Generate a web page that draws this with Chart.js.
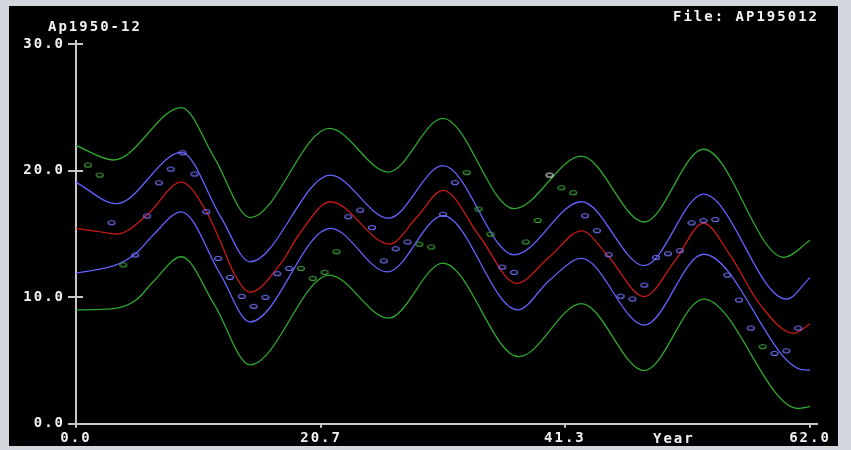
<!DOCTYPE html>
<html>
<head>
<meta charset="utf-8">
<title>Ap1950-12</title>
<script src="https://cdn.jsdelivr.net/npm/chart.js@4.4.0/dist/chart.umd.min.js"></script>
<style>
  html, body { margin: 0; padding: 0; }
  body { width: 851px; height: 450px; background: #d3d7dd; position: relative; overflow: hidden; }
  #plot { position: absolute; left: 9px; top: 6px; width: 829px; height: 440px; background: #000; }
  #plot canvas { display: block; }
</style>
</head>
<body>
<div id="plot"><canvas id="chart" width="829" height="440"></canvas></div>
<script>
// labels
var plotTitle = "Ap1950-12";
var fileLabel = "File: AP195012";
var xTitle = "Year";
var xTicks = [0, 20.7, 41.3, 62.0];
var yTicks = [0, 10, 20, 30];

// observations, one per year
var inYears = [3, 5, 6, 7, 8, 9, 10, 11, 12, 13, 14, 15, 16, 17, 18, 23, 24, 25, 26, 27, 28, 31, 32, 36, 37,
               43, 44, 45, 46, 47, 48, 49, 50, 51, 52, 53, 54, 55, 56, 57, 59, 60, 61];
var inValues = [15.89, 13.34, 16.42, 19.05, 20.13, 21.42, 19.74, 16.76, 13.07, 11.57, 10.07, 9.28, 9.99, 11.86, 12.28,
                16.36, 16.89, 15.5, 12.87, 13.83, 14.37, 16.56, 19.06, 12.38, 11.97,
                16.44, 15.26, 13.36, 10.08, 9.86, 10.96, 13.15, 13.44, 13.68, 15.88, 16.06, 16.14, 11.75, 9.78, 7.56,
                5.56, 5.76, 7.56];
var outYears = [1, 2, 4, 19, 20, 21, 22, 29, 30, 33, 34, 35, 38, 39, 41, 42, 58];
var outValues = [20.45, 19.66, 12.55, 12.28, 11.49, 11.97, 13.6, 14.19, 13.97, 19.85, 16.97, 14.98, 14.37, 16.07,
                 18.66, 18.26, 6.09];
var farYears = [40];
var farValues = [19.66];

// fitted curve
var fitYears = [0, 1.8, 3.5, 6.0, 8.9, 11.0, 12.2, 13.4, 14.7, 17.4, 18.8, 21.5, 26.5, 28.8, 31.0, 34.1,
                37.2, 40.0, 42.7, 44.9, 48.0, 50.6, 53.0, 55.2, 57.8, 60.6, 62.0];
var fitValues = [15.45, 15.2, 15.0, 16.5, 19.1, 16.8, 14.4, 11.8, 10.4, 12.8, 14.9, 17.55, 14.2, 16.35, 18.45,
                 14.8, 11.1, 13.2, 15.25, 13.3, 10.05, 12.9, 15.85, 13.4, 9.4, 7.15, 7.9];

// inner band (blue)
var innerHiYears = [0, 3.4, 8.9, 12.2, 14.7, 21.5, 26.4, 31.0, 37.0, 42.7, 48.0, 53.0, 60.0, 62.0];
var innerHiValues = [19.1, 17.4, 21.45, 16.4, 12.8, 19.65, 16.25, 20.4, 13.35, 17.55, 12.5, 18.15, 9.85, 11.55];
var innerLoYears = [0, 3.5, 5.1, 6.5, 8.9, 12.2, 14.7, 21.5, 26.3, 31.0, 37.3, 40.0, 42.7, 48.0, 53.0, 61.5, 62.0];
var innerLoValues = [11.9, 12.6, 13.5, 14.9, 16.75, 11.8, 8.05, 15.45, 12.0, 16.45, 9.0, 11.35, 13.07, 7.8,
                     13.4, 4.25, 4.24];

// outer band (green)
var outerHiYears = [0, 3.2, 8.9, 11.7, 14.7, 21.4, 26.4, 31.0, 37.0, 42.7, 48.0, 53.0, 59.8, 62.0];
var outerHiValues = [22.0, 20.85, 25.0, 21.0, 16.3, 23.35, 19.9, 24.15, 17.0, 21.15, 15.95, 21.7, 13.15, 14.5];
var outerLoYears = [0, 3.2, 5.1, 6.5, 8.9, 11.7, 14.7, 21.4, 26.4, 31.0, 37.4, 42.7, 48.0, 53.0, 61.0, 62.0];
var outerLoValues = [9.0, 9.1, 9.8, 11.2, 13.2, 9.4, 4.65, 11.75, 8.35, 12.7, 5.3, 9.5, 4.2, 9.85, 1.2, 1.35];

var axisColor = "#c8c8c8";
var textColor = "#f2f2f2";
var tickFont = { family: "'DejaVu Sans Mono', monospace", size: 14, weight: "bold" };

function xy(years, values) {
    return years.map(function (x, i) { return { x: x, y: values[i] }; });
}

// small hollow ellipse used as the point marker
function ring(color) {
    var c = document.createElement("canvas");
    c.width = 10;
    c.height = 7;
    var g = c.getContext("2d");
    g.strokeStyle = color;
    g.lineWidth = 1.1;
    g.beginPath();
    g.ellipse(5, 3.5, 3.5, 2, 0, 0, Math.PI * 2);
    g.stroke();
    return c;
}

function curve(years, values, color) {
    return {
        data: xy(years, values),
        borderColor: color,
        borderWidth: 1.3,
        pointRadius: 0,
        fill: false,
        cubicInterpolationMode: "monotone"
    };
}

function marks(years, values, color) {
    return {
        data: xy(years, values),
        showLine: false,
        pointStyle: ring(color),
        pointRadius: 3,
        pointHoverRadius: 3
    };
}

// header texts, year title and the inner half of the y tick marks
var plotText = {
    id: "plotText",
    beforeDraw: function (chart) {
        chart.ctx.letterSpacing = "2px";
    },
    afterDraw: function (chart) {
        var c = chart.ctx, area = chart.chartArea, ys = chart.scales.y;
        c.save();
        c.strokeStyle = axisColor;
        c.lineWidth = 2;
        yTicks.forEach(function (v) {
            var py = Math.round(ys.getPixelForValue(v));
            c.beginPath();
            c.moveTo(area.left, py);
            c.lineTo(area.left + 7, py);
            c.stroke();
        });
        c.font = "bold 14px 'DejaVu Sans Mono', monospace";
        c.fillStyle = textColor;
        c.textBaseline = "alphabetic";
        c.textAlign = "left";
        c.fillText(plotTitle, 39, 25);
        c.fillText(fileLabel, 664, 14.5);
        c.fillText(xTitle, 644, 436.5);
        c.restore();
    }
};

var chart = new Chart(document.getElementById("chart").getContext("2d"), {
    type: "line",
    data: {
        datasets: [
            marks(farYears, farValues, "#e8e8e8"),
            marks(inYears, inValues, "#7474ff"),
            marks(outYears, outValues, "#3ea63e"),
            curve(fitYears, fitValues, "#c81818"),
            curve(innerHiYears, innerHiValues, "#6262ff"),
            curve(innerLoYears, innerLoValues, "#6262ff"),
            curve(outerHiYears, outerHiValues, "#2fa82f"),
            curve(outerLoYears, outerLoValues, "#2fa82f")
        ]
    },
    options: {
        responsive: false,
        animation: false,
        devicePixelRatio: 1,
        layout: { padding: { left: 0, right: 20.9, top: 34.5, bottom: 0 } },
        plugins: { legend: { display: false }, tooltip: { enabled: false } },
        scales: {
            x: {
                type: "linear",
                min: 0,
                max: 62.6,
                afterBuildTicks: function (s) { s.ticks = xTicks.map(function (v) { return { value: v }; }); },
                afterFit: function (s) { s.height = 22.3; },
                border: { color: axisColor, width: 2 },
                grid: { drawOnChartArea: false, color: axisColor, lineWidth: 2, tickLength: 4 },
                ticks: {
                    color: textColor,
                    font: tickFont,
                    padding: 2,
                    maxRotation: 0,
                    autoSkip: false,
                    callback: function (v) { return Number(v).toFixed(1); }
                }
            },
            y: {
                min: 0,
                max: 30.3,
                afterBuildTicks: function (s) { s.ticks = yTicks.map(function (v) { return { value: v }; }); },
                afterFit: function (s) { s.width = 67; },
                border: { color: axisColor, width: 2 },
                grid: { drawOnChartArea: false, color: axisColor, lineWidth: 2, tickLength: 8 },
                ticks: {
                    color: textColor,
                    font: tickFont,
                    padding: 3,
                    autoSkip: false,
                    callback: function (v) { return Number(v).toFixed(1); }
                }
            }
        }
    },
    plugins: [plotText]
});
</script>
</body>
</html>
